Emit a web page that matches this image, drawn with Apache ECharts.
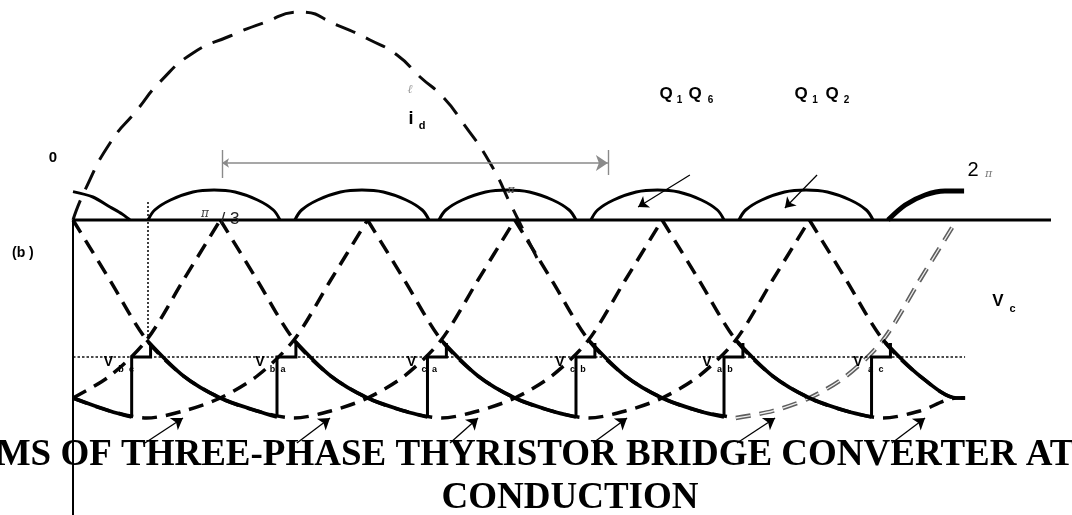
<!DOCTYPE html>
<html>
<head>
<meta charset="utf-8">
<title>Three-phase thyristor bridge converter waveforms</title>
<script src="https://cdn.jsdelivr.net/npm/echarts@6/dist/echarts.min.js"></script>
<style>
  html, body { margin: 0; padding: 0; background: #fff; }
  #chart { width: 1072px; height: 515px; }
</style>
</head>
<body>
<div id="chart"></div>
<script>
// Horizontal axis: electrical angle ωt in degrees; vertical axis: per-unit voltage / current.
const X_MIN = -29.74, X_MAX = 406.96;
const Y_MIN = -1.475, Y_MAX = 1.1;

// Line-voltage arches below the axis (each spans 180°, pointed at the zero crossings)
const archApexes = [-120, -60, 0, 60, 120, 180, 240, 300];
const archPhase = [0, 15, 30, 45, 60, 75, 90, 105, 120, 135, 150, 165, 180];
const archValue = [0, -0.30, -0.60, -0.78, -0.89, -0.955, -0.99, -0.955, -0.89, -0.78, -0.60, -0.30, 0];
const traceStart = 0, traceEnd = 363.4, traceEndValue = -0.89;

// Output voltage: firing angles, commutation steps
const firingAngles = [30, 90, 150, 210, 270, 330];
const stepAngles = [23.9, 83.1, 144.4, 204.9, 265.2, 325.3];
const stepLow = -0.985, stepTop = -0.685, notchTop = -0.615, notchWidth = 7.7;

// Rectified pulses above the axis
const humpStart = [30.6, 90.4, 149.1, 211.0, 271.3];
const humpEnd = [84.3, 145.0, 204.9, 265.2, 325.9];
const humpFrac = [0, 0.05, 0.17, 0.34, 0.5, 0.66, 0.83, 0.95, 1];
const humpHeight = [0, 0.05, 0.10, 0.14, 0.15, 0.14, 0.10, 0.05, 0];
const firstHump = [[0, 0.142], [8.1, 0.115], [15.1, 0.065], [20, 0.03], [23.2, 0]];
const lastHump = [[332, 0], [339, 0.075], [347.1, 0.125], [355.2, 0.145], [363, 0.145]];

// Load current i_d
const idAngle = [0, 4.9, 15.1, 26.1, 35.4, 48.9, 64.0, 77.4, 92.5, 107.5, 121.0, 132.0, 141.4, 150.7, 158.9, 169.9, 178.8, 189.0];
const idValue = [0, 0.15, 0.385, 0.55, 0.69, 0.835, 0.92, 0.985, 1.04, 0.975, 0.90, 0.825, 0.715, 0.615, 0.485, 0.285, 0.065, -0.19];

// Annotation arrows
const troughArrowFrom = [[29.3, -1.115], [91.2, -1.115], [153.6, -1.115], [211.8, -1.115], [270.5, -1.115], [333.6, -1.115]];
const troughArrowTo = [[44.8, -0.99], [104.7, -0.99], [165.0, -0.99], [225.7, -0.99], [286.0, -0.99], [347.1, -0.99]];
const pulseArrowFrom = [[251.3, 0.225], [303.1, 0.225]];
const pulseArrowTo = [[230.2, 0.065], [290.0, 0.06]];
const spanArrow = [[60.7, 0.285], [217.9, 0.285]];
const spanTicks = [[[60.7, 0.35], [60.7, 0.21]], [[217.9, 0.35], [217.9, 0.225]]];

// Reference lines
const axisEnd = 398.4;
const firingMarker = [[30.55, 0.09], [30.55, -0.59]];
const levelLine = -0.685;

// Labels
const phaseLabels = [['b', 'c'], ['b', 'a'], ['c', 'a'], ['c', 'b'], ['a', 'b'], ['a', 'c']];
const phaseLabelX = [108.5, 260, 411.5, 560, 707, 858];

const SANS = '"Liberation Sans", Arial, sans-serif';
const SERIF = '"Liberation Serif", "Times New Roman", serif';

function archPoints(apex, phaseFrom, phaseTo) {
  const pts = [];
  for (let i = 0; i < archPhase.length; i++) {
    const p = archPhase[i];
    const a = apex + p;
    if (p < phaseFrom || p > phaseTo) continue;
    if (a < traceStart || a > traceEnd) continue;
    pts.push([a, archValue[i]]);
  }
  if (apex + phaseTo > traceEnd && pts.length && pts[pts.length - 1][0] < traceEnd) {
    pts.push([traceEnd, traceEndValue]);
  }
  return pts;
}

function lineSeries(data, style, smooth, z) {
  return {
    type: 'line', data: data, showSymbol: false, symbol: 'none',
    smooth: smooth, silent: true, z: z || 2,
    lineStyle: Object.assign({ color: '#000', width: 3, cap: 'butt', join: 'miter' }, style)
  };
}

const series = [];
const archDash = { width: 3.5, type: [15, 9], color: '#050505' };

// dashed arches
archApexes.forEach(function (apex) {
  if (apex === 180) {
    series.push(lineSeries(archPoints(apex, 0, 90), archDash, 0.3, 2));
  } else {
    series.push(lineSeries(archPoints(apex, 0, 180), archDash, 0.3, 2));
  }
});
// highlighted (grey outlined) half of the 180° arch
const greyHalf = archPoints(180, 90, 180);
series.push(lineSeries(greyHalf, { width: 4.4, type: [15, 9], color: '#5e5e5e' }, 0.3, 2));
series.push(lineSeries(greyHalf, { width: 1.3, type: [15, 9], color: '#eeeeee' }, 0.3, 3));

// load current i_d
series.push(lineSeries(idAngle.map(function (a, i) { return [a, idValue[i]]; }),
  { width: 3, type: [21, 12], color: '#0a0a0a' }, 0.55, 2));

// axes drawn as lines
series.push(lineSeries([[0, 0], [axisEnd, 0]], { width: 3 }, false, 4));
series.push(lineSeries([[0, 0], [0, Y_MIN]], { width: 2 }, false, 4));

// dotted reference lines
series.push(lineSeries(firingMarker, { width: 1.6, type: [2, 2], color: '#111' }, false, 3));
series.push(lineSeries([[0, levelLine], [traceEnd, levelLine]], { width: 1.4, type: [2.5, 2], color: '#111' }, false, 3));

// output voltage: first partial segment
series.push(lineSeries([[0, archValue[4]], [15, archValue[5]], [stepAngles[0], stepLow]], { width: 3.6 }, 0.3, 5));
// output voltage: segments after each firing
firingAngles.forEach(function (f, k) {
  const pts = [];
  for (let i = 2; i <= 5; i++) {
    const a = f - 30 + archPhase[i];
    if (a <= traceEnd && (k + 1 < stepAngles.length ? a < stepAngles[k + 1] : true)) pts.push([a, archValue[i]]);
  }
  if (k + 1 < stepAngles.length) pts.push([stepAngles[k + 1], stepLow]);
  else pts.push([traceEnd, traceEndValue]);
  series.push(lineSeries(pts, { width: 3.6 }, 0.3, 5));
});
// commutation steps
stepAngles.forEach(function (s) {
  series.push(lineSeries([[s, stepLow], [s, stepTop], [s + notchWidth, stepTop], [s + notchWidth, notchTop]],
    { width: 3 }, false, 5));
});

// pulses above the axis
series.push(lineSeries(firstHump, { width: 3 }, 0.3, 5));
humpStart.forEach(function (s, k) {
  const e = humpEnd[k];
  series.push(lineSeries(humpFrac.map(function (f, i) { return [s + f * (e - s), humpHeight[i]]; }),
    { width: 3 }, 0.35, 5));
});
series.push(lineSeries(lastHump, { width: 5 }, 0.3, 5));

// arrows
function arrowSeries(pairs, color, width, symbols, size) {
  return {
    type: 'lines', coordinateSystem: 'cartesian2d', silent: true, z: 6,
    symbol: symbols, symbolSize: size,
    lineStyle: { color: color, width: width, opacity: 1, curveness: 0 },
    itemStyle: { color: color },
    data: pairs.map(function (p) { return { coords: p }; })
  };
}
series.push(arrowSeries(troughArrowFrom.map(function (p, i) { return [p, troughArrowTo[i]]; }), '#000', 1.3, ['none', 'arrow'], [7, 11]));
series.push(arrowSeries(pulseArrowFrom.map(function (p, i) { return [p, pulseArrowTo[i]]; }), '#000', 1.2, ['none', 'arrow'], [6, 10]));
series.push(arrowSeries([spanArrow], '#8a8a8a', 1.6, ['arrow', 'arrow'], [7, 12]));
series.push(arrowSeries(spanTicks, '#8a8a8a', 1.4, ['none', 'none'], 1));

// text
function txt(text, x, y, font, fill, align) {
  return {
    type: 'text', x: x, y: y, z: 20, silent: true,
    style: { text: text, font: font, fill: fill || '#000', align: align || 'center', verticalAlign: 'middle',
             textAlign: align || 'center', textVerticalAlign: 'middle' }
  };
}
const graphic = [
  txt('0', 53, 158, 'bold 15px ' + SANS),
  txt('(b )', 12, 253, 'bold 14px ' + SANS, '#000', 'left'),
  txt('π', 205, 214, 'italic 12px "DejaVu Serif", serif', '#444'),
  txt('/ 3', 220.5, 219, '17px ' + SANS, '#222', 'left'),
  txt('π', 511, 190, 'italic 11px "DejaVu Serif", serif', '#444'),
  txt('ℓ', 410, 90, 'italic 12px "DejaVu Serif", serif', '#999'),
  txt('i', 411, 119, 'bold 18px ' + SANS),
  txt('d', 422, 126, 'bold 11px ' + SANS),
  txt('Q', 666, 94, 'bold 17px ' + SANS),
  txt('1', 679.5, 100.5, 'bold 10px ' + SANS),
  txt('Q', 695, 94, 'bold 17px ' + SANS),
  txt('6', 710.5, 100.5, 'bold 10px ' + SANS),
  txt('Q', 801, 94, 'bold 17px ' + SANS),
  txt('1', 815, 100.5, 'bold 10px ' + SANS),
  txt('Q', 832, 94, 'bold 17px ' + SANS),
  txt('2', 846.5, 100.5, 'bold 10px ' + SANS),
  txt('2', 973, 170, '20px ' + SANS),
  txt('π', 988.5, 174, 'italic 11px "DejaVu Serif", serif', '#777'),
  txt('V', 998, 301, 'bold 17px ' + SANS),
  txt('c', 1012.5, 308.5, 'bold 11px ' + SANS),
  txt('MS OF THREE-PHASE THYRISTOR BRIDGE CONVERTER AT', 535, 455, 'bold 37px ' + SERIF),
  txt('CONDUCTION', 570, 498, 'bold 37px ' + SERIF)
];
phaseLabelX.forEach(function (x, i) {
  graphic.push(txt('V', x, 362, 'bold 14px ' + SANS));
  graphic.push(txt(phaseLabels[i][0], x + 12.5, 370, 'bold 9px ' + SANS));
  graphic.push(txt(phaseLabels[i][1], x + 23, 370, 'bold 9px ' + SANS));
});

const chart = echarts.init(document.getElementById('chart'), null, { renderer: 'canvas' });
chart.setOption({
  animation: false,
  backgroundColor: '#fff',
  grid: { left: 0, right: 0, top: 0, bottom: 0, containLabel: false },
  xAxis: { type: 'value', min: X_MIN, max: X_MAX, show: false },
  yAxis: { type: 'value', min: Y_MIN, max: Y_MAX, show: false },
  series: series,
  graphic: graphic
});
</script>
</body>
</html>
